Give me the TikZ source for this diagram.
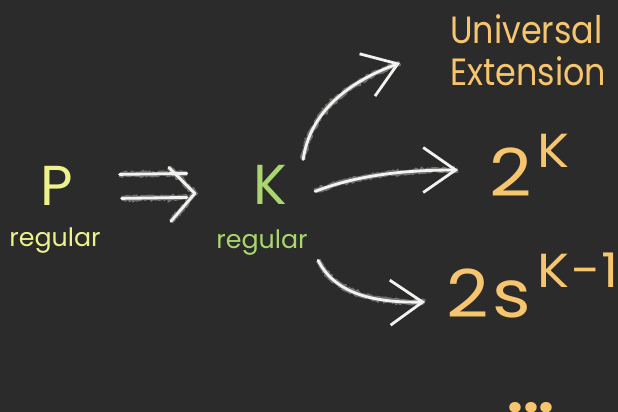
\documentclass[tikz,border=0pt]{standalone}
\usepackage{fontspec}
\setmainfont{Poppins}
\newfontfamily\narrowfont[FakeStretch=0.88]{Poppins}
\newfontfamily\wideform[FakeStretch=1.12]{Poppins}
\usetikzlibrary{arrows.meta,decorations.pathmorphing,calc}
\definecolor{board}{HTML}{2B2B2B}
\definecolor{chalkwhite}{HTML}{F2F2F0}
\definecolor{pyellow}{HTML}{EEF28C}
\definecolor{kgreen}{HTML}{A9D66E}
\definecolor{peach}{HTML}{F6C56E}

\tikzset{
  chalk/.style={draw=chalkwhite, line width=2pt, line cap=round, line join=round,
    preaction={draw=chalkwhite, arrows=-, opacity=.35, line width=3.6pt, decorate,
      decoration={random steps,segment length=1.3pt,amplitude=.7pt}}},
  chalktip/.style={-{Straight Barb[length=23pt,width=32pt]}},
  letter/.style={font=\fontsize{40}{40}\selectfont, inner sep=0pt},
  word/.style={font=\fontsize{18}{18}\selectfont, inner sep=0pt},
  title/.style={font=\narrowfont\fontsize{27}{30}\selectfont, inner sep=0pt, text=peach},
  formula/.style={font=\wideform\fontsize{47}{47}\selectfont, inner sep=0pt, text=peach},
}

\begin{document}
\begin{tikzpicture}[x=0.025cm,y=-0.025cm]
  \useasboundingbox (0,0) rectangle (618,412);
  \clip (0,0) rectangle (618,412);
  \fill[board] (0,0) rectangle (618,412);

  % left side
  \node[letter,text=pyellow,anchor=base] (p) at (57,206) {P};
  \node[word,text=pyellow,anchor=base] (preg) at (55,247) {regular};
  \node[letter,text=kgreen,anchor=base] (k) at (270,205) {K};
  \node[word,text=kgreen,anchor=base] (kreg) at (262,249) {regular};

  % right side
  \node[title,anchor=north west,align=left] (ue) at (450,14) {Universal\\Extension};
  \node[formula,anchor=base west] (twok) at (489,197)
    {2\hspace{4pt}\raisebox{21pt}{\fontsize{34}{34}\selectfont K}};
  \node[formula,anchor=base west] (twos) at (446,318)
    {2\hspace{3pt}s\hspace{4pt}\raisebox{22pt}{\fontsize{34}{34}\selectfont K\hspace{1pt}−\hspace{1pt}1}};
  \node[formula,anchor=base,font=\fontsize{40}{40}\selectfont\bfseries] (dots) at (531,412) {...};

  % implies arrow
  \coordinate (ia) at ($(p.east)+(46,-2)$);
  \coordinate (ib) at ($(k.west)+(-66,-2)$);
  \coordinate (itip) at ($(k.west)+(-58,8)$);
  \draw[chalk] ($(ia)+(0,-10)$) -- ($(ib)+(0,-10)$);
  \draw[chalk] ($(ia)+(2,14)$) -- ($(ib)+(0,14)$);
  \draw[chalk] ($(itip)+(-26,-26)$) -- (itip) -- ($(itip)+(-24,28)$);

  % arrows out of K
  \coordinate (kup) at ($(k.north east)+(16,-6)$);
  \coordinate (kmid) at ($(k.east)+(28,6)$);
  \coordinate (kdown) at ($(k.south east)+(31,55)$);
  \coordinate (uetip) at (400,63);
  \coordinate (twoktip) at (458,170);
  \coordinate (twostip) at (425,302);
  \draw[chalk,chalktip] (kup) .. controls (310,112) and (348,82) .. (uetip);
  \draw[chalk,chalktip] (kmid) .. controls (360,174) and (410,170) .. (twoktip);
  \draw[chalk,chalktip] (kdown) .. controls (334,292) and (370,303) .. (twostip);
\end{tikzpicture}
\end{document}
